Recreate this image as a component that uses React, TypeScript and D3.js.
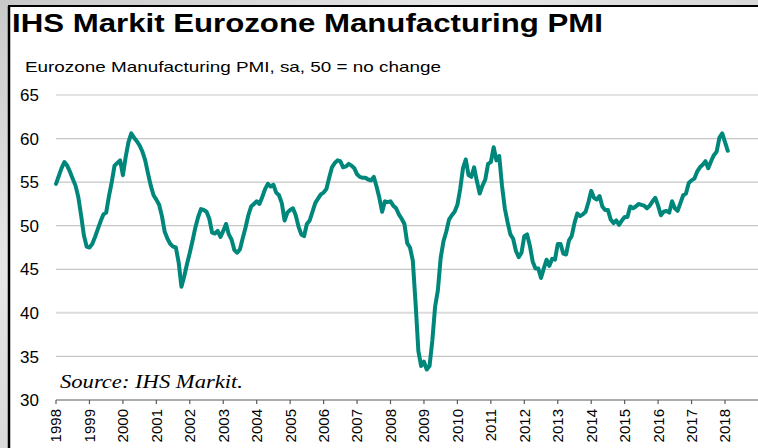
import React from "react";
import * as d3 from "d3";

const pmi1998 = [54.8, 55.7, 56.6, 57.3, 56.9, 56.2, 55.4, 54.6, 53.3, 51.2, 48.9, 47.6];
const pmi1999 = [47.5, 47.9, 48.7, 49.6, 50.5, 51.3, 51.5, 53.4, 55.0, 56.9, 57.2, 57.5];
const pmi2000 = [55.8, 57.9, 59.6, 60.6, 60.1, 59.7, 59.2, 58.5, 57.5, 56.0, 54.6, 53.5];
const pmi2001 = [53.0, 52.4, 51.1, 49.3, 48.5, 47.9, 47.6, 47.5, 45.8, 43.0, 44.2, 45.6];
const pmi2002 = [46.9, 48.3, 49.8, 51.0, 51.9, 51.8, 51.6, 50.8, 49.2, 49.1, 49.4, 48.7];
const pmi2003 = [49.4, 50.2, 49.0, 48.4, 47.2, 46.9, 47.3, 48.6, 49.8, 51.2, 52.2, 52.5];
const pmi2004 = [52.8, 52.5, 53.3, 54.2, 54.8, 54.5, 54.7, 53.8, 53.5, 52.6, 50.6, 51.5];
const pmi2005 = [51.8, 52.0, 51.2, 49.9, 49.0, 48.8, 50.2, 50.6, 51.6, 52.6, 53.1, 53.6];
const pmi2006 = [53.8, 54.2, 55.5, 56.7, 57.2, 57.5, 57.4, 56.7, 56.8, 57.1, 56.9, 56.6];
const pmi2007 = [55.9, 55.6, 55.5, 55.5, 55.3, 55.2, 55.6, 54.5, 53.2, 51.6, 52.8, 52.7];
const pmi2008 = [52.8, 52.3, 52.0, 51.3, 50.8, 50.2, 48.0, 47.5, 46.0, 41.1, 35.6, 33.9];
const pmi2009 = [34.4, 33.5, 33.9, 36.8, 40.7, 42.6, 46.3, 48.2, 49.3, 50.7, 51.2, 51.6];
const pmi2010 = [52.4, 54.2, 56.6, 57.6, 55.8, 55.6, 56.7, 55.1, 53.7, 54.6, 55.3, 57.1];
const pmi2011 = [57.3, 59.0, 57.5, 58.0, 54.6, 52.0, 50.4, 49.0, 48.5, 47.1, 46.4, 46.9];
const pmi2012 = [48.8, 49.0, 47.7, 45.9, 45.1, 45.1, 44.0, 45.1, 46.1, 45.4, 46.2, 46.1];
const pmi2013 = [47.9, 47.9, 46.8, 46.7, 48.3, 48.8, 50.3, 51.4, 51.1, 51.3, 51.6, 52.7];
const pmi2014 = [54.0, 53.2, 53.0, 53.4, 52.2, 51.8, 51.8, 50.7, 50.3, 50.6, 50.1, 50.6];
const pmi2015 = [51.0, 51.0, 52.2, 52.0, 52.2, 52.5, 52.4, 52.3, 52.0, 52.3, 52.8, 53.2];
const pmi2016 = [52.3, 51.2, 51.6, 51.7, 51.5, 52.8, 52.0, 51.7, 52.6, 53.5, 53.7, 54.9];
const pmi2017 = [55.2, 55.4, 56.2, 56.7, 57.0, 57.4, 56.6, 57.4, 58.1, 58.5, 60.1, 60.6];
const pmi2018 = [59.6, 58.6];

const pmi = [
  ...pmi1998, ...pmi1999, ...pmi2000, ...pmi2001, ...pmi2002, ...pmi2003, ...pmi2004,
  ...pmi2005, ...pmi2006, ...pmi2007, ...pmi2008, ...pmi2009, ...pmi2010, ...pmi2011,
  ...pmi2012, ...pmi2013, ...pmi2014, ...pmi2015, ...pmi2016, ...pmi2017, ...pmi2018,
];

const years = d3.range(1998, 2019);
const yTicks = [30, 35, 40, 45, 50, 55, 60, 65];

const W = 758;
const H = 448;

export default function App() {
  const x = d3.scaleLinear().domain([0, 240]).range([56, 725]);
  const y = d3.scaleLinear().domain([30, 65]).range([400, 95]);
  const line = d3
    .line<number>()
    .x((_, i) => x(i))
    .y((d) => y(d));

  return (
    <svg
      width={W}
      height={H}
      style={{ position: "absolute", left: 0, top: 0 }}
      fontFamily="'Liberation Sans', Arial, sans-serif"
    >
      <defs>
        <linearGradient id="bg" x1="0" y1="0" x2="1" y2="1">
          <stop offset="0" stopColor="#c9c9c9" />
          <stop offset="0.3" stopColor="#e6e6e6" />
          <stop offset="0.6" stopColor="#d2d2d2" />
          <stop offset="1" stopColor="#e2e2e2" />
        </linearGradient>
      </defs>
      <rect x={0} y={0} width={W} height={H} fill="url(#bg)" />
      <rect x={10} y={7} width={W - 10} height={H - 7} fill="#ffffff" />
      <line x1={9} y1={6} x2={9} y2={H} stroke="#000" strokeWidth={2.5} />
      <line x1={8} y1={6} x2={W} y2={6} stroke="#000" strokeWidth={2} />

      <text
        x={12}
        y={32}
        fontSize={26}
        fontWeight="bold"
        fill="#000"
        textLength={591}
        lengthAdjust="spacingAndGlyphs"
      >
        IHS Markit Eurozone Manufacturing PMI
      </text>
      <text x={25} y={72} fontSize={15} fill="#000" textLength={416} lengthAdjust="spacingAndGlyphs">
        Eurozone Manufacturing PMI, sa, 50 = no change
      </text>

      {yTicks
        .filter((t) => t > 30)
        .map((t) => (
          <line
            key={"g" + t}
            x1={56}
            x2={W}
            y1={y(t)}
            y2={y(t)}
            stroke={t === 40 ? "#dcdcdc" : "#c6c6c6"}
            strokeWidth={t === 40 ? 2 : 1.2}
          />
        ))}
      {yTicks.map((t) => (
        <text key={"yl" + t} x={39} y={y(t)} dy="0.36em" fontSize={17} textAnchor="end" fill="#000">
          {t}
        </text>
      ))}

      <line x1={56} x2={W} y1={y(30)} y2={y(30)} stroke="#5a5a5a" strokeWidth={1.2} />
      {years.map((yr, k) => (
        <g key={"xt" + yr}>
          <line x1={x(k * 12)} x2={x(k * 12)} y1={y(30)} y2={y(30) + 4} stroke="#5a5a5a" strokeWidth={1.2} />
          <text
            transform={`translate(${x(k * 12)},409) rotate(-90)`}
            textAnchor="end"
            dy="0.36em"
            fontSize={15}
            fill="#000"
          >
            {yr}
          </text>
        </g>
      ))}

      <path
        d={line(pmi) || ""}
        fill="none"
        stroke="#00877c"
        strokeWidth={4}
        strokeLinejoin="round"
        strokeLinecap="round"
      />

      <text
        x={60}
        y={388}
        fontSize={19}
        fontStyle="italic"
        fontFamily="'Liberation Serif', 'Times New Roman', serif"
        fill="#000"
        textLength={183}
        lengthAdjust="spacingAndGlyphs"
      >
        Source: IHS Markit.
      </text>
    </svg>
  );
}
